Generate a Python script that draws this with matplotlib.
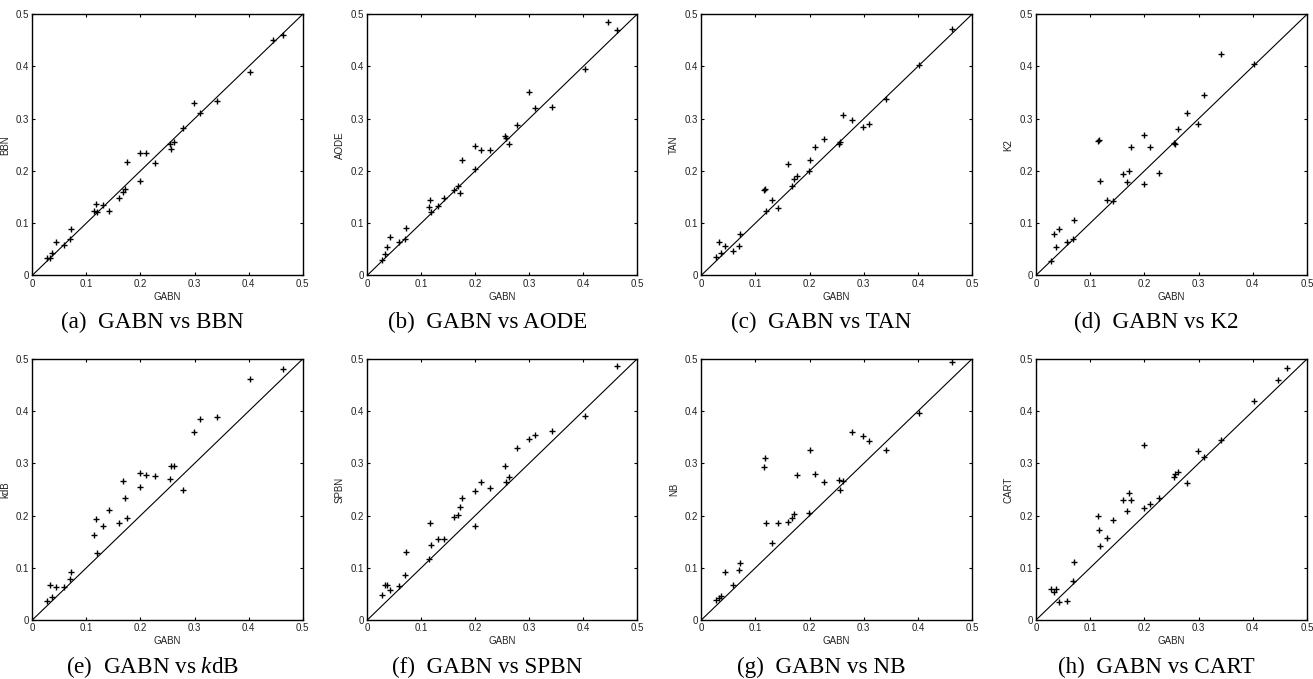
import numpy as np
import matplotlib
matplotlib.use("Agg")
import matplotlib.pyplot as plt

plt.rcParams['font.family'] = ['Liberation Sans', 'DejaVu Sans']
plt.rcParams['mathtext.fontset'] = 'custom'
plt.rcParams['mathtext.rm'] = 'Liberation Serif'
plt.rcParams['mathtext.it'] = 'Liberation Serif:italic'

nan = np.nan

# GABN error rates (shared x values for all panels)
gabn = [0.027, 0.033, 0.037, 0.043, 0.058, 0.069, 0.071, 0.115, 0.117, 0.119,
        0.131, 0.142, 0.160, 0.168, 0.171, 0.176, 0.199, 0.200, 0.210, 0.227,
        0.255, 0.257, 0.262, 0.278, 0.299, 0.310, 0.342, 0.403, 0.446, 0.463]

bbn = [0.034, 0.034, 0.043, 0.063, 0.058, 0.070, 0.088, 0.124, 0.137, 0.121,
       0.135, 0.124, 0.149, 0.160, 0.165, 0.218, 0.181, 0.234, 0.235, 0.215,
       0.252, 0.241, 0.255, 0.282, 0.331, 0.310, 0.334, 0.390, 0.451, 0.460]

aode = [0.029, 0.040, 0.054, 0.073, 0.063, 0.070, 0.091, 0.130, 0.144, 0.121,
        0.133, 0.149, 0.163, 0.172, 0.158, 0.220, 0.204, 0.248, 0.240, 0.240,
        0.266, 0.263, 0.252, 0.287, 0.351, 0.321, 0.323, 0.395, 0.486, 0.469]

tan = [0.036, 0.063, 0.043, 0.057, 0.046, 0.057, 0.080, 0.163, 0.165, 0.124,
       0.145, 0.128, 0.213, 0.171, 0.185, 0.190, 0.199, 0.220, 0.246, 0.262,
       0.252, 0.255, 0.308, 0.297, 0.285, 0.289, 0.338, 0.402, nan, 0.471]

k2 = [0.027, 0.079, 0.054, 0.089, 0.063, 0.069, 0.105, 0.257, 0.259, 0.180,
      0.144, 0.142, 0.195, 0.179, 0.200, 0.245, 0.174, 0.269, 0.245, 0.196,
      0.253, 0.251, 0.280, 0.310, 0.289, 0.345, 0.424, 0.405, nan, nan]

kdb = [0.036, 0.067, 0.045, 0.063, 0.064, 0.079, 0.091, 0.163, 0.194, 0.128,
       0.181, 0.211, 0.185, 0.266, 0.234, 0.196, 0.255, 0.282, 0.278, 0.275,
       0.271, 0.295, 0.295, 0.250, 0.360, 0.386, 0.388, 0.462, nan, 0.480]

spbn = [0.047, 0.067, 0.067, 0.057, 0.065, 0.086, 0.130, 0.116, 0.185, 0.144,
        0.156, 0.156, 0.198, 0.202, 0.216, 0.234, 0.181, 0.248, 0.265, 0.252,
        0.295, 0.265, 0.274, 0.329, 0.347, 0.354, 0.363, 0.390, nan, 0.486]

nb = [0.039, 0.042, 0.046, 0.092, 0.068, 0.095, 0.109, 0.293, 0.310, 0.186,
      0.148, 0.185, 0.188, 0.195, 0.203, 0.278, 0.205, 0.326, 0.280, 0.264,
      0.269, 0.250, 0.266, 0.361, 0.352, 0.342, 0.326, 0.397, nan, 0.495]

cart = [0.059, 0.053, 0.060, 0.035, 0.037, 0.074, 0.112, 0.200, 0.173, 0.142,
        0.158, 0.191, 0.229, 0.209, 0.243, 0.230, 0.215, 0.335, 0.222, 0.234,
        0.273, 0.280, 0.284, 0.262, 0.324, 0.313, 0.344, 0.420, 0.460, 0.483]

ylabels = ['BBN', 'AODE', 'TAN', 'K2', 'kdB', 'SPBN', 'NB', 'CART']
captions = ['(a)  GABN vs BBN', '(b)  GABN vs AODE', '(c)  GABN vs TAN',
            '(d)  GABN vs K2', '(e)  GABN vs $\\mathit{k}$dB',
            '(f)  GABN vs SPBN', '(g)  GABN vs NB', '(h)  GABN vs CART']
series = [bbn, aode, tan, k2, kdb, spbn, nb, cart]
ticks = [0, 0.1, 0.2, 0.3, 0.4, 0.5]
ticklabels = ['0', '0.1', '0.2', '0.3', '0.4', '0.5']

W, H = 1313, 679
fig = plt.figure(figsize=(W / 100, H / 100), dpi=100)

lefts = [32.3, 367.3, 701.3, 1036.0]
rights = [302.7, 637.0, 972.0, 1307.0]
tops = [14.3, 359.0]
bottoms = [275.3, 620.0]
cap_y = [322.0, 667.0]

for i, (ys, yl, cap) in enumerate(zip(series, ylabels, captions)):
    r, c = divmod(i, 4)
    l, rt, t, b = lefts[c], rights[c], tops[r], bottoms[r]
    ax = fig.add_axes([l / W, 1 - b / H, (rt - l) / W, (b - t) / H])
    ax.plot([0, 0.5], [0, 0.5], color='black', lw=0.8)
    ax.plot(gabn, ys, linestyle='none', marker='+', color='black',
            markersize=4, markeredgewidth=1.0)
    ax.set_xlim(0, 0.5)
    ax.set_ylim(0, 0.5)
    ax.set_xticks(ticks)
    ax.set_yticks(ticks)
    ax.set_xticklabels(ticklabels)
    ax.set_yticklabels(ticklabels)
    ax.tick_params(direction='in', length=2, width=0.8, labelsize=7,
                   top=True, right=True, pad=2.5, labelcolor='#222222')
    for sp in ax.spines.values():
        sp.set_linewidth(1.0)
    ax.set_xlabel('GABN', fontsize=7, labelpad=2, color='#222222')
    ax.set_ylabel(yl, fontsize=7, labelpad=4, color='#222222')
    cx = (l + rt) / 2 - 15
    fig.text(cx / W, 1 - cap_y[r] / H, cap, ha='center', va='center',
             fontsize=16.7, family='Liberation Serif')

fig.savefig('out.png', dpi=100)
